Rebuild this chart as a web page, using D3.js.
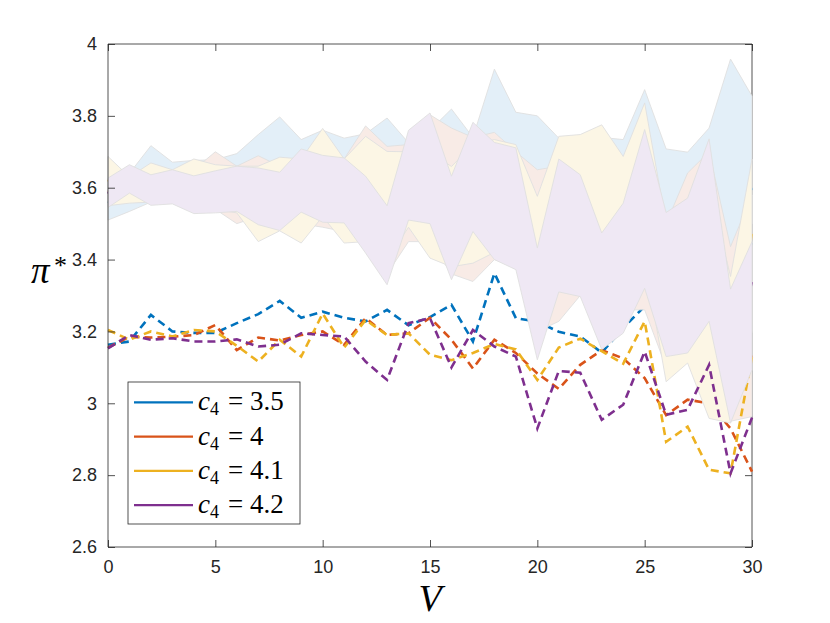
<!DOCTYPE html>
<html><head><meta charset="utf-8">
<script src="https://cdn.jsdelivr.net/npm/d3@7"></script>
<style>body{margin:0;background:#fff}svg{display:block}</style>
</head><body><svg id="c" width="830" height="623"></svg>
<script>
// ---------- data ----------
const V = [0,1,2,3,4,5,6,7,8,9,10,11,12,13,14,15,16,17,18,19,20,21,22,23,24,25,26,27,28,29,30];
const xTicks = [0,5,10,15,20,25,30];
const xTickLabels = ["0","5","10","15","20","25","30"];
const yTicks = [2.6,2.8,3,3.2,3.4,3.6,3.8,4];
const yTickLabels = ["2.6","2.8","3","3.2","3.4","3.6","3.8","4"];
const legendLabels = ["3.5","4","4.1","4.2"];

// dashed curves
const dash35 = [3.163,3.172,3.246,3.200,3.196,3.196,3.223,3.248,3.285,3.238,3.255,3.238,3.228,3.260,3.217,3.240,3.274,3.172,3.362,3.237,3.227,3.199,3.186,3.141,3.210,3.270,3.350,3.400,3.450,3.300,3.450];
const dash4  = [3.155,3.185,3.183,3.185,3.190,3.218,3.148,3.183,3.175,3.190,3.200,3.163,3.237,3.190,3.195,3.238,3.177,3.097,3.177,3.140,3.083,3.040,3.107,3.148,3.125,3.070,2.967,3.010,3.000,2.930,2.810];
const dash41 = [3.204,3.177,3.200,3.186,3.204,3.200,3.160,3.116,3.177,3.130,3.250,3.155,3.232,3.190,3.195,3.135,3.120,3.140,3.165,3.150,3.065,3.155,3.180,3.145,3.110,3.228,2.893,2.935,2.815,2.805,3.130];
const dash42 = [3.153,3.190,3.177,3.181,3.172,3.172,3.178,3.158,3.163,3.195,3.190,3.186,3.116,3.065,3.223,3.237,3.100,3.204,3.158,3.130,2.930,3.090,3.085,2.954,2.996,3.144,2.968,2.982,3.107,2.805,2.960];

// solid curves (mostly hidden below the bands)
const mean35 = [3.56,3.59,3.63,3.61,3.61,3.61,3.62,3.64,3.67,3.64,3.65,3.64,3.62,3.62,3.63,3.64,3.66,3.62,3.71,3.64,3.60,3.60,3.59,3.58,3.59,3.69,3.58,3.60,3.63,3.68,3.596];
const mean4  = [3.59,3.60,3.60,3.60,3.60,3.62,3.58,3.60,3.58,3.59,3.60,3.58,3.61,3.54,3.59,3.63,3.56,3.54,3.58,3.54,3.43,3.44,3.50,3.44,3.46,3.50,3.30,3.39,3.38,3.19,3.13];
const mean41 = [3.62,3.59,3.61,3.60,3.61,3.60,3.60,3.56,3.59,3.56,3.64,3.56,3.60,3.55,3.60,3.55,3.52,3.56,3.58,3.56,3.44,3.54,3.54,3.51,3.48,3.62,3.28,3.33,3.28,3.15,3.469];
const mean42 = [3.586,3.62,3.59,3.60,3.58,3.59,3.60,3.58,3.56,3.62,3.60,3.59,3.52,3.44,3.63,3.65,3.49,3.63,3.56,3.54,3.28,3.50,3.46,3.31,3.38,3.54,3.33,3.36,3.48,3.13,3.335];

// bands
const hi35 = [3.600,3.640,3.717,3.671,3.676,3.678,3.695,3.748,3.797,3.734,3.760,3.738,3.750,3.794,3.725,3.760,3.819,3.740,3.930,3.810,3.800,3.738,3.730,3.740,3.734,3.873,3.708,3.699,3.766,3.958,3.855];
const lo35 = [3.510,3.534,3.560,3.560,3.540,3.540,3.550,3.540,3.550,3.550,3.550,3.550,3.500,3.450,3.520,3.520,3.500,3.500,3.500,3.480,3.400,3.450,3.450,3.420,3.450,3.500,3.450,3.500,3.500,3.400,3.500];
const hi4  = [3.620,3.640,3.630,3.640,3.650,3.700,3.660,3.689,3.660,3.680,3.700,3.680,3.772,3.715,3.720,3.803,3.766,3.740,3.754,3.700,3.650,3.660,3.700,3.680,3.660,3.740,3.500,3.641,3.700,3.436,3.580];
const lo4  = [3.560,3.560,3.560,3.560,3.540,3.540,3.500,3.520,3.500,3.500,3.490,3.478,3.440,3.360,3.450,3.450,3.360,3.339,3.400,3.380,3.200,3.228,3.300,3.200,3.260,3.260,3.100,3.130,3.050,2.950,2.963];
const hi41 = [3.687,3.630,3.669,3.650,3.680,3.664,3.660,3.660,3.685,3.680,3.765,3.680,3.743,3.701,3.700,3.700,3.659,3.720,3.734,3.720,3.576,3.743,3.748,3.775,3.687,3.836,3.500,3.550,3.600,3.353,3.680];
const lo41 = [3.550,3.557,3.560,3.560,3.540,3.540,3.530,3.450,3.480,3.446,3.520,3.446,3.450,3.400,3.490,3.404,3.380,3.390,3.420,3.400,3.300,3.330,3.330,3.250,3.280,3.400,3.060,3.112,2.958,2.945,3.200];
const hi42 = [3.627,3.664,3.636,3.650,3.633,3.647,3.660,3.655,3.643,3.708,3.690,3.683,3.632,3.550,3.760,3.808,3.632,3.782,3.726,3.711,3.432,3.680,3.636,3.474,3.557,3.762,3.531,3.571,3.736,3.318,3.450];
const lo42 = [3.545,3.585,3.551,3.555,3.528,3.530,3.534,3.497,3.481,3.532,3.504,3.502,3.418,3.330,3.510,3.500,3.344,3.478,3.400,3.372,3.121,3.310,3.297,3.150,3.195,3.320,3.130,3.140,3.228,2.945,3.093];

const lineColors = ["#0072BD","#D95319","#EDB120","#7E2F8E"];
const bandColors = ["#e3eff8","#f8ebe6","#fcf6e5","#efe8f4"];

const series = [
  {dash:dash35, mean:mean35, lo:lo35, hi:hi35},
  {dash:dash4,  mean:mean4,  lo:lo4,  hi:hi4},
  {dash:dash41, mean:mean41, lo:lo41, hi:hi41},
  {dash:dash42, mean:mean42, lo:lo42, hi:hi42}
];

// ---------- drawing ----------
const svg = d3.select("#c");
svg.append("rect").attr("width",830).attr("height",623).attr("fill","#fff");
const L=108, R=752, T=44, B=547;
const x = d3.scaleLinear().domain([0,30]).range([L,R]);
const y = d3.scaleLinear().domain([2.6,4]).range([B,T]);
const axCol = "#262626";
const tickFont = "'Liberation Sans', Arial, Helvetica, sans-serif";

// layer under bands: right border with its ticks
const under = svg.append("g");
under.append("line").attr("x1",R).attr("x2",R).attr("y1",T).attr("y2",B).attr("stroke",axCol).attr("stroke-width",0.8);
const gR = under.append("g").attr("transform",`translate(${R},0)`)
  .call(d3.axisRight(y).tickValues(yTicks).tickSize(-7).tickSizeOuter(0).tickFormat(""));
gR.select(".domain").remove();
gR.selectAll("line").attr("stroke",axCol).attr("stroke-width",0.8);

// series
series.forEach((s,i)=>{
  const g = svg.append("g");
  const lineGen = d3.line().x((d,j)=>x(V[j])).y(d=>y(d));
  g.append("path").attr("d",lineGen(s.mean)).attr("fill","none")
    .attr("stroke",lineColors[i]).attr("stroke-width",2).attr("stroke-linecap","round");
  const area = d3.area().x((d,j)=>x(V[j])).y0((d,j)=>y(s.lo[j])).y1((d,j)=>y(s.hi[j]));
  g.append("path").attr("d",area(V)).attr("fill",bandColors[i])
    .attr("stroke","#e0e0e0").attr("stroke-width",0.9).attr("stroke-linejoin","round");
  g.append("path").attr("d",lineGen(s.dash)).attr("fill","none")
    .attr("stroke",lineColors[i]).attr("stroke-width",2.6).attr("stroke-dasharray","8,5");
});

// over: left, top, bottom borders and ticks
const over = svg.append("g");
[[L,T,L,B],[L,T,R,T],[L,B,R,B]].forEach(c=>{
  over.append("line").attr("x1",c[0]).attr("y1",c[1]).attr("x2",c[2]).attr("y2",c[3])
    .attr("stroke",axCol).attr("stroke-width",0.8);
});
const gB = over.append("g").attr("transform",`translate(0,${B})`)
  .call(d3.axisBottom(x).tickValues(xTicks).tickSize(-7).tickSizeOuter(0).tickPadding(13)
    .tickFormat((d,i)=>xTickLabels[i]));
const gT = over.append("g").attr("transform",`translate(0,${T})`)
  .call(d3.axisTop(x).tickValues(xTicks).tickSize(-7).tickSizeOuter(0).tickFormat(""));
const gL = over.append("g").attr("transform",`translate(${L},0)`)
  .call(d3.axisLeft(y).tickValues(yTicks).tickSize(-7).tickSizeOuter(0).tickPadding(11)
    .tickFormat((d,i)=>yTickLabels[i]));
[gB,gT,gL].forEach(g=>{
  g.select(".domain").remove();
  g.selectAll("line").attr("stroke",axCol).attr("stroke-width",0.8);
  g.selectAll("text").attr("fill",axCol).style("font-family",tickFont).style("font-size","18px");
});

// axis labels
const serif = "'Liberation Serif','DejaVu Serif',serif";
svg.append("text").attr("x",430).attr("y",611).attr("text-anchor","middle")
  .style("font-family",serif).style("font-style","italic").style("font-size","38px").attr("fill","#000").text("V");
const yl = svg.append("text").attr("x",31).attr("y",283)
  .style("font-family",serif).style("font-size","37px").attr("fill","#000");
yl.append("tspan").style("font-style","italic").text("π");
yl.append("tspan").attr("x",54).attr("y",274).style("font-size","26px").text("*");

// legend
const lg = svg.append("g");
lg.append("rect").attr("x",128).attr("y",382).attr("width",172).attr("height",142)
  .attr("fill","#fff").attr("stroke",axCol).attr("stroke-width",0.8);
const ly = [402.3,436.6,470.9,505.2];
legendLabels.forEach((lab,i)=>{
  lg.append("line").attr("x1",134).attr("x2",193).attr("y1",ly[i]).attr("y2",ly[i])
    .attr("stroke",lineColors[i]).attr("stroke-width",2.2);
  const t = lg.append("text").attr("y",ly[i]+8).style("font-family",serif).attr("fill","#000");
  t.append("tspan").attr("x",198).style("font-style","italic").style("font-size","27px").text("c");
  t.append("tspan").attr("x",210).attr("dy",5).style("font-size","18px").text("4");
  t.append("tspan").attr("x",228).attr("dy",-5).style("font-size","27px").text("=");
  t.append("tspan").attr("x",250).style("font-size","27px").text(lab);
});
</script></body></html>
